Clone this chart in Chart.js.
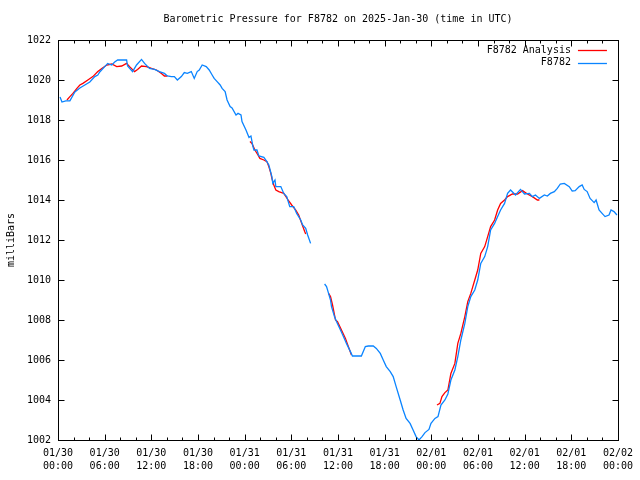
<!DOCTYPE html>
<html>
<head>
<meta charset="utf-8">
<script src="https://cdn.jsdelivr.net/npm/chart.js@4.4.1/dist/chart.umd.min.js"></script>
<style>
  html, body { margin: 0; padding: 0; background: #fff; }
</style>
</head>
<body>
<canvas id="chart" width="640" height="480"></canvas>
<script>
// hours since 01/30 00:00 UTC, pressure in mb (null = no data)
const stationHours = [
  0.26, 0.51, 1.0, 1.53, 2.17, 2.81, 3.45, 4.09, 4.73, 5.12, 5.37, 6.01, 6.39, 6.91, 7.29, 7.67, 7.93,
  8.82, 8.95, 9.59, 10.1, 10.74, 11.13, 11.77, 12.41, 13.04, 13.68, 14.07, 14.58, 14.96, 15.35, 15.86,
  16.24, 16.63, 17.14, 17.52, 17.9, 18.16, 18.54, 19.06, 19.44, 19.82, 20.08, 20.46, 20.85, 21.1, 21.49,
  21.74, 22.13, 22.38, 22.89, 23.15, 23.53, 23.66, 24.17, 24.56, 24.81, 25.07, 25.2, 25.58, 25.83, 26.47,
  26.86, 27.11, 27.5, 27.62, 27.9, 28.01, 28.65, 29.03, 29.41, 29.8, 30.31, 30.69, 31.21, 31.46, 31.85,
  32.1, 32.48, 33.4,
  34.28, 34.53, 34.79, 35.04, 35.17, 35.55, 35.81, 36.32, 36.7, 37.09, 37.6, 37.86, 38.37, 39.01, 39.52,
  39.9, 40.54, 40.93, 41.44, 41.82, 42.21, 42.72, 43.1, 43.48, 44.0, 44.38, 44.76, 45.27, 45.66, 46.04,
  46.42, 46.81, 47.19, 47.7, 47.96, 48.47, 48.86, 49.24, 49.75, 50.13, 50.52, 51.03, 51.41, 51.8, 52.31,
  52.69, 53.08, 53.59, 53.97, 54.36, 54.87, 55.25, 55.63, 56.14, 56.53, 56.91, 57.42, 57.81, 58.19, 58.83,
  59.47, 59.98, 60.62, 61.0, 61.39, 61.9, 62.54, 62.92, 63.31, 63.82, 64.2, 64.59, 65.1, 65.74, 66.12,
  66.5, 67.02, 67.4, 67.66, 68.04, 68.42, 68.94, 69.19, 69.57, 69.96, 70.34, 70.85, 71.11, 71.49, 71.87
];
const stationPressure = [
  1019.15, 1018.9, 1018.96, 1018.96, 1019.4, 1019.6, 1019.75, 1019.9, 1020.17, 1020.25, 1020.4, 1020.67, 1020.83, 1020.75, 1020.9, 1021.0, 1021.0,
  1021.0, 1020.7, 1020.42, 1020.75, 1021.03, 1020.83, 1020.58, 1020.53, 1020.42, 1020.33, 1020.2, 1020.17, 1020.17, 1020.0, 1020.17,
  1020.37, 1020.33, 1020.42, 1020.08, 1020.42, 1020.5, 1020.75, 1020.67, 1020.5, 1020.25, 1020.08, 1019.92, 1019.75, 1019.58, 1019.42,
  1019.0, 1018.67, 1018.6, 1018.25, 1018.33, 1018.25, 1017.92, 1017.5, 1017.13, 1017.2, 1016.67, 1016.5, 1016.5, 1016.2, 1016.13,
  1015.92, 1015.75, 1015.17, 1014.83, 1015.0, 1014.67, 1014.67, 1014.33, 1014.17, 1013.67, 1013.67, 1013.33, 1013.0, 1012.75, 1012.58,
  1012.25, 1011.83, null,
  1009.8, 1009.67, 1009.33, 1009.0, 1008.67, 1008.17, 1007.92, 1007.5, 1007.17, 1006.83, 1006.42, 1006.2, 1006.2, 1006.2, 1006.67,
  1006.7, 1006.7, 1006.58, 1006.33, 1006.0, 1005.67, 1005.42, 1005.17, 1004.67, 1004.0, 1003.5, 1003.08, 1002.83, 1002.5, 1002.17,
  1002.0, 1002.17, 1002.37, 1002.53, 1002.83, 1003.08, 1003.17, 1003.75, 1004.0, 1004.3, 1005.0, 1005.5, 1006.17, 1007.0, 1007.83,
  1008.67, 1009.17, 1009.5, 1010.0, 1010.83, 1011.17, 1011.67, 1012.5, 1012.83, 1013.17, 1013.5, 1013.83, 1014.33, 1014.5, 1014.25,
  1014.53, 1014.3, 1014.33, 1014.17, 1014.25, 1014.08, 1014.25, 1014.2, 1014.33, 1014.42, 1014.58, 1014.8, 1014.83, 1014.67, 1014.45,
  1014.47, 1014.67, 1014.75, 1014.53, 1014.42, 1014.08, 1013.87, 1014.0, 1013.5, 1013.33, 1013.17, 1013.25, 1013.5, 1013.42, 1013.25
];

const analysisHours = [
  1.15, 1.53, 1.92, 2.43, 2.81, 3.2, 3.84, 4.48, 5.12, 5.63, 6.27, 6.91, 7.55, 8.19, 8.82, 9.21, 9.85,
  10.23, 10.74, 11.38, 12.02, 12.66, 13.3, 13.68, 14.07, 18,
  24.68, 24.94, 25.32, 25.71, 25.96, 26.47, 26.86, 27.11, 27.37, 27.5, 27.75, 28.01, 28.39, 29.03, 29.67,
  30.05, 30.57, 30.95, 31.33, 31.72, 31.85, 33,
  34.79, 35.04, 35.3, 35.68, 35.94, 36.45, 36.96, 37.34, 37.73, 43,
  48.73, 49.11, 49.37, 49.75, 50.13, 50.52, 51.03, 51.41, 51.8, 52.31, 52.69, 53.08, 53.59, 53.97, 54.36,
  54.87, 55.25, 55.63, 56.14, 56.53, 56.91, 57.42, 57.81, 58.44, 59.09, 59.73, 60.36, 61.0, 61.64, 61.9
];
const analysisPressure = [
  1019.0, 1019.17, 1019.33, 1019.58, 1019.75, 1019.83, 1020.0, 1020.17, 1020.42, 1020.58, 1020.75, 1020.8, 1020.67, 1020.7, 1020.83, 1020.67, 1020.42,
  1020.53, 1020.7, 1020.67, 1020.58, 1020.5, 1020.33, 1020.2, 1020.2, null,
  1016.92, 1016.83, 1016.5, 1016.25, 1016.08, 1016.0, 1015.92, 1015.67, 1015.33, 1015.08, 1014.75, 1014.5, 1014.42, 1014.33, 1013.95,
  1013.75, 1013.5, 1013.25, 1012.83, 1012.42, 1012.3, null,
  1009.33, 1009.17, 1008.75, 1008.0, 1007.92, 1007.5, 1007.08, 1006.67, 1006.25, null,
  1003.75, 1003.83, 1004.17, 1004.37, 1004.5, 1005.33, 1005.83, 1006.83, 1007.33, 1008.17, 1008.92, 1009.33, 1010.0, 1010.5, 1011.33,
  1011.67, 1012.17, 1012.67, 1013.0, 1013.5, 1013.83, 1014.0, 1014.17, 1014.3, 1014.3, 1014.47, 1014.3, 1014.17, 1014.0, 1014.0
];

const xTickLabels = [
  ['01/30', '00:00'], ['01/30', '06:00'], ['01/30', '12:00'], ['01/30', '18:00'],
  ['01/31', '00:00'], ['01/31', '06:00'], ['01/31', '12:00'], ['01/31', '18:00'],
  ['02/01', '00:00'], ['02/01', '06:00'], ['02/01', '12:00'], ['02/01', '18:00'],
  ['02/02', '00:00']
];

const titleText = 'Barometric Pressure for F8782 on 2025-Jan-30 (time in UTC)';
const FONT = '"DejaVu Sans Mono", "Liberation Mono", monospace';

const toPoints = (xs, ys) => xs.map((x, i) => ({ x: x, y: ys[i] }));

// gnuplot look: closed frame, inward ticks on all sides, title and legend inside
const gnuplotFrame = {
  id: 'gnuplotFrame',
  afterDraw(chart) {
    const { ctx, chartArea: a, scales } = chart;
    const L = Math.round(a.left) + 0.5;
    const R = Math.round(a.right) + 0.5;
    const T = Math.round(a.top) + 0.5;
    const B = Math.round(a.bottom) + 0.5;
    const clamp = (v, lo, hi) => Math.min(hi, Math.max(lo, v));
    ctx.save();
    ctx.strokeStyle = '#000';
    ctx.lineWidth = 1;
    ctx.strokeRect(L, T, R - L, B - T);
    ctx.beginPath();
    for (let v = 0; v <= 72; v += 2) {
      const px = clamp(Math.round(scales.x.getPixelForValue(v)) + 0.5, L, R);
      const len = v % 6 === 0 ? 6 : 3;
      ctx.moveTo(px, B); ctx.lineTo(px, B - len);
      ctx.moveTo(px, T); ctx.lineTo(px, T + len);
    }
    for (let v = 1002; v <= 1022; v += 2) {
      const py = clamp(Math.round(scales.y.getPixelForValue(v)) + 0.5, T, B);
      ctx.moveTo(L, py); ctx.lineTo(L + 6, py);
      ctx.moveTo(R, py); ctx.lineTo(R - 6, py);
    }
    ctx.stroke();

    ctx.fillStyle = '#000';
    ctx.font = '10px ' + FONT;
    ctx.textBaseline = 'middle';
    ctx.textAlign = 'center';
    ctx.fillText(titleText, (a.left + a.right) / 2, 19);

    // legend, top right
    ctx.textAlign = 'right';
    chart.data.datasets.forEach((ds, i) => {
      const y = a.top + 10 + i * 12.5;
      ctx.fillStyle = '#000';
      ctx.fillText(ds.label, a.right - 47, y);
      ctx.strokeStyle = ds.borderColor;
      ctx.lineWidth = 1.3;
      ctx.beginPath();
      ctx.moveTo(a.right - 40, Math.round(y) + 0.5);
      ctx.lineTo(a.right - 11, Math.round(y) + 0.5);
      ctx.stroke();
    });
    ctx.restore();
  }
};

new Chart(document.getElementById('chart'), {
  type: 'line',
  data: {
    datasets: [
      {
        label: 'F8782 Analysis',
        data: toPoints(analysisHours, analysisPressure),
        borderColor: '#ff0000',
        borderWidth: 1.3,
        pointRadius: 0,
        spanGaps: false,
        order: 1
      },
      {
        label: 'F8782',
        data: toPoints(stationHours, stationPressure),
        borderColor: '#0a84ff',
        borderWidth: 1.3,
        pointRadius: 0,
        spanGaps: false,
        order: 0
      }
    ]
  },
  options: {
    responsive: false,
    animation: false,
    layout: { padding: { top: 40, right: 19, left: 0, bottom: 0 } },
    plugins: {
      legend: { display: false },
      title: { display: false },
      tooltip: { enabled: false }
    },
    scales: {
      x: {
        type: 'linear',
        min: 0,
        max: 72,
        grid: { display: false, drawTicks: false },
        border: { display: false },
        afterFit: (scale) => { scale.height = 40; },
        ticks: {
          stepSize: 6,
          autoSkip: false,
          maxRotation: 0,
          padding: 7,
          color: '#000',
          font: { family: FONT, size: 10, lineHeight: '13px' },
          callback: (v) => xTickLabels[Math.round(v / 6)]
        }
      },
      y: {
        min: 1002,
        max: 1022,
        grid: { display: false, drawTicks: false },
        border: { display: false },
        afterFit: (scale) => { scale.width = 58; },
        title: {
          display: true,
          text: 'milliBars',
          color: '#000',
          padding: { top: 5, bottom: 0 },
          font: { family: FONT, size: 10, lineHeight: 1.2 }
        },
        ticks: {
          stepSize: 2,
          padding: 7,
          color: '#000',
          font: { family: FONT, size: 10 },
          callback: (v) => String(v)
        }
      }
    }
  },
  plugins: [gnuplotFrame]
});
</script>
</body>
</html>
